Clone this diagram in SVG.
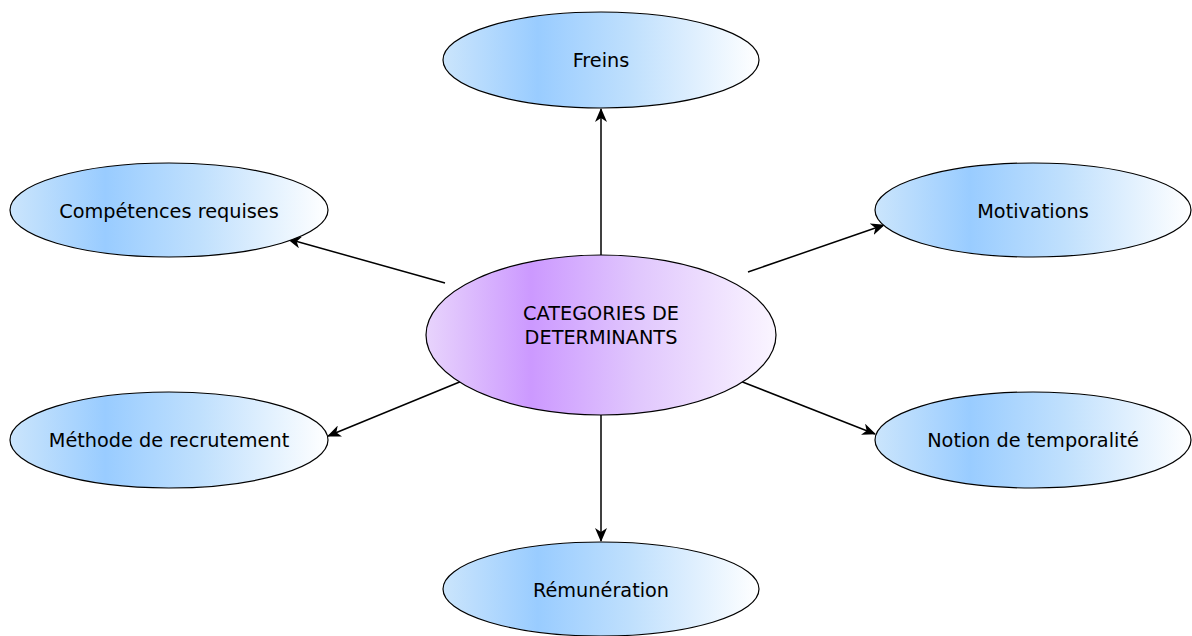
<svg xmlns="http://www.w3.org/2000/svg" width="1192" height="636" viewBox="0 0 1192 636">
<defs>
<linearGradient id="gb" x1="0" y1="0" x2="1" y2="0">
<stop offset="0" stop-color="#cbe5fc"/>
<stop offset="0.3" stop-color="#99ccff"/>
<stop offset="0.6" stop-color="#c0e0fd"/>
<stop offset="1" stop-color="#ffffff"/>
</linearGradient>
<linearGradient id="gp" x1="0" y1="0" x2="1" y2="0">
<stop offset="0" stop-color="#e8d4fc"/>
<stop offset="0.3" stop-color="#cc99ff"/>
<stop offset="0.6" stop-color="#e0c6fd"/>
<stop offset="1" stop-color="#faf5ff"/>
</linearGradient>
<marker id="ah" viewBox="0 0 14 12" refX="13" refY="6" markerWidth="14" markerHeight="12" markerUnits="userSpaceOnUse" orient="auto">
<path d="M0,0 L14,6 L0,12 L4,6 Z" fill="#000"/>
</marker>
<style>
.n{fill:url(#gb);stroke:#000;stroke-width:1.2}
.c{fill:url(#gp);stroke:#000;stroke-width:1.2}
.t{font-family:"DejaVu Sans","Liberation Sans",sans-serif;font-size:19.3px;fill:#000;text-anchor:middle;dominant-baseline:central}
.e{stroke:#000;stroke-width:1.5;fill:none;marker-end:url(#ah)}
</style>
</defs>
<g id="connectors">
<line class="e" x1="601" y1="255" x2="601" y2="109"/>
<line class="e" x1="445" y1="283" x2="288" y2="239"/>
<line class="e" x1="748" y1="272" x2="884" y2="225"/>
<line class="e" x1="462" y1="381" x2="328" y2="436"/>
<line class="e" x1="740" y1="381" x2="875" y2="434"/>
<line class="e" x1="601" y1="415" x2="601" y2="541"/>
</g>
<g id="center">
<ellipse class="c" cx="601" cy="335" rx="175" ry="80"/>
<text class="t" x="601" y="313">CATEGORIES DE</text>
<text class="t" x="601" y="337">DETERMINANTS</text>
</g>
<g id="freins">
<ellipse class="n" cx="601" cy="60" rx="158" ry="48"/>
<text class="t" x="601" y="60">Freins</text>
</g>
<g id="competences">
<ellipse class="n" cx="169" cy="210" rx="159" ry="47"/>
<text class="t" x="169" y="211">Compétences requises</text>
</g>
<g id="motivations">
<ellipse class="n" cx="1033" cy="210" rx="158" ry="47"/>
<text class="t" x="1033" y="211">Motivations</text>
</g>
<g id="methode">
<ellipse class="n" cx="169" cy="440" rx="159" ry="48"/>
<text class="t" x="169" y="440">Méthode de recrutement</text>
</g>
<g id="notion">
<ellipse class="n" cx="1033" cy="440" rx="158" ry="48"/>
<text class="t" x="1033" y="440">Notion de temporalité</text>
</g>
<g id="remuneration">
<ellipse class="n" cx="601" cy="589" rx="158" ry="47"/>
<text class="t" x="601" y="590">Rémunération</text>
</g>
</svg>
